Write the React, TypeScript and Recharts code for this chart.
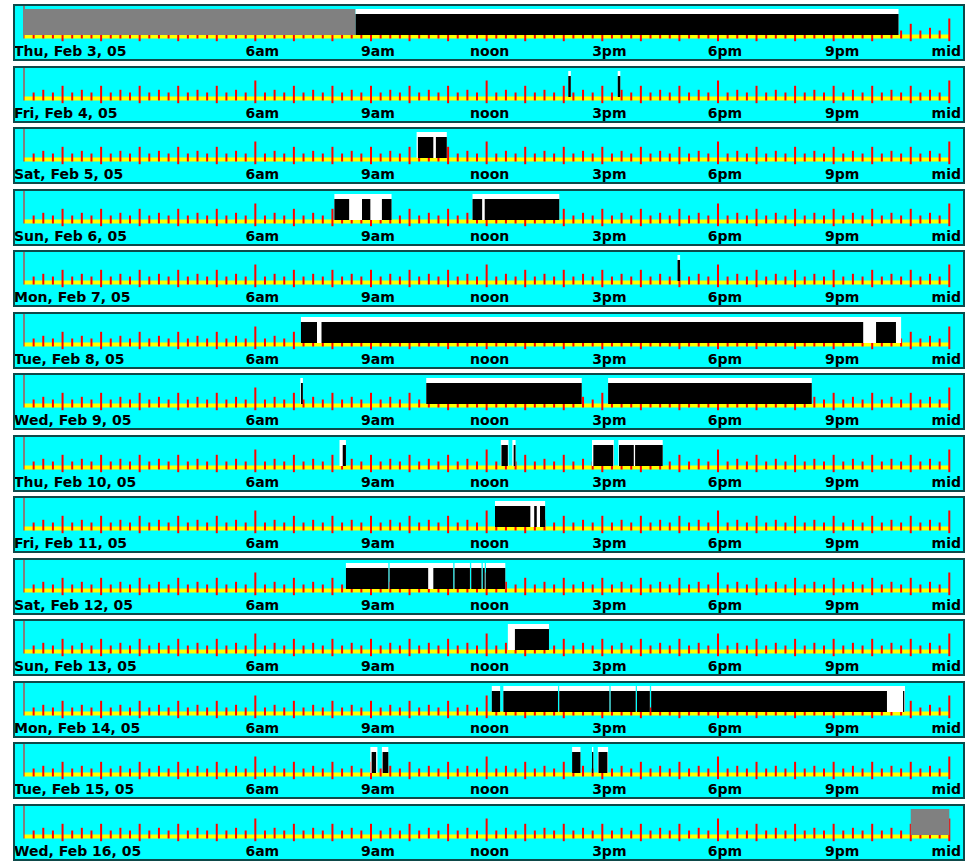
import { ComposedChart, XAxis, YAxis, ReferenceArea, ReferenceLine } from 'recharts'

const dayLabels = [
  'Thu, Feb 3, 05', 'Fri, Feb 4, 05', 'Sat, Feb 5, 05', 'Sun, Feb 6, 05', 'Mon, Feb 7, 05',
  'Tue, Feb 8, 05', 'Wed, Feb 9, 05', 'Thu, Feb 10, 05', 'Fri, Feb 11, 05', 'Sat, Feb 12, 05',
  'Sun, Feb 13, 05', 'Mon, Feb 14, 05', 'Tue, Feb 15, 05', 'Wed, Feb 16, 05',
]

const hourTicks = [6, 9, 12, 15, 18, 21, 24]
const hourLabels = ['6am', '9am', 'noon', '3pm', '6pm', '9pm', 'mid']

// sessions (white), one list per day
const sessions = [
  [['8:36', '22:41']],
  [['14:07', '14:11'], ['15:24', '15:28']],
  [['10:11', '10:58']],
  [['8:03', '9:32'], ['11:38', '13:53']],
  [['16:57', '17:01']],
  [['7:11', '22:45']],
  [['7:10', '7:14'], ['10:26', '14:28'], ['15:09', '20:26']],
  [['8:11', '8:21'], ['12:22', '12:34'], ['12:40', '12:45'], ['14:44', '15:18'], ['15:25', '16:34']],
  [['12:13', '13:31']],
  [['8:21', '9:27'], ['9:29', '11:08'], ['11:10', '11:34'], ['11:36', '11:52'], ['11:54', '11:57'], ['11:59', '12:29']],
  [['12:33', '13:37']],
  [['12:08', '12:21'], ['12:26', '13:51'], ['13:53', '15:11'], ['15:13', '15:52'], ['15:54', '16:14'], ['16:16', '22:51']],
  [['8:59', '9:10'], ['9:17', '9:27'], ['14:13', '14:26'], ['14:44', '14:46'], ['14:53', '15:09']],
  [],
]

// active time (black)
const active = [
  [['8:36', '22:41']],
  [['14:07', '14:11'], ['15:24', '15:28']],
  [['10:13', '10:37'], ['10:41', '10:58']],
  [['8:03', '8:26'], ['8:46', '8:59'], ['9:17', '9:32'], ['11:38', '11:53'], ['11:57', '13:53']],
  [['16:57', '17:01']],
  [['7:11', '7:36'], ['7:43', '21:46'], ['22:06', '22:37']],
  [['7:11', '7:14'], ['10:26', '14:28'], ['15:09', '20:26']],
  [['8:16', '8:21'], ['12:23', '12:33'], ['12:42', '12:45'], ['14:46', '15:17'], ['15:26', '15:49'], ['15:51', '16:34']],
  [['12:13', '13:08'], ['13:14', '13:18'], ['13:23', '13:31']],
  [['8:21', '9:27'], ['9:29', '10:29'], ['10:37', '11:08'], ['11:10', '11:34'], ['11:36', '11:52'], ['11:54', '11:57'], ['11:59', '12:29']],
  [['12:44', '13:37']],
  [['12:08', '12:21'], ['12:26', '13:51'], ['13:53', '15:11'], ['15:13', '15:52'], ['15:54', '16:14'], ['16:16', '22:23'], ['22:48', '22:50']],
  [['9:01', '9:08'], ['9:18', '9:27'], ['14:13', '14:26'], ['14:44', '14:46'], ['14:54', '15:08']],
  [],
]

// no data (gray)
const noData = [
  [['0:00', '8:36']], [], [], [], [], [], [], [], [], [], [], [], [],
  [['23:00', '24:00']],
]

const toH = (s: string) => {
  const [a, b] = s.split(':').map(Number)
  return a + b / 60
}

const W = 948
const H = 53
const PLOT_H = 36
// y axis is reversed, values are px from top of the plot
const SES_TOP = 3
const ACT_TOP = 8
const BAR_BOT = 29
const BAND_TOP = 28.5
const BAND_BOT = 32.5

const quarters = Array.from({ length: 97 }, (_, q) => q / 4)

function tickSpan(h: number): [number, number, number] {
  if (h === 0) return [0, BAND_BOT, 1]
  if (h % 6 === 0) return [12.5, 35.2, 2]
  if (h % 1 === 0) return [17.8, 35.2, 2]
  if (h % 0.5 === 0) return [21.8, BAND_BOT, 2]
  return [24.5, BAND_BOT, 2]
}

const labelShift: Record<number, number> = { 6: 7, 9: 7, 12: 3, 15: 7, 18: 7, 21: 8.5, 24: -3 }

function HourTick(props: any) {
  const { x, payload, day } = props
  const v = payload.value
  const first = v === 0
  return (
    <text
      x={first ? x - 10 : x + labelShift[v]}
      y={50}
      textAnchor={first ? 'start' : 'middle'}
      fontFamily="DejaVu Sans"
      fontWeight="bold"
      fontSize={14}
      fill="#000"
    >
      {first ? day : hourLabels[hourTicks.indexOf(v)]}
    </text>
  )
}

function DayPanel({ i }: { i: number }) {
  return (
    <div
      style={{
        position: 'absolute',
        left: 13,
        top: Math.round(4 + 61.5 * i),
        width: W,
        height: H,
        border: '2px solid #0e4a4a',
        background: '#00ffff',
      }}
    >
      <ComposedChart
        width={W}
        height={H}
        data={quarters.map((h) => ({ h }))}
        margin={{ top: 0, right: 13.7, bottom: 0, left: 9 }}
        style={{ overflow: 'visible' }}
      >
        <XAxis
          type="number"
          dataKey="h"
          domain={[0, 24]}
          allowDataOverflow
          ticks={[0, ...hourTicks]}
          interval={0}
          height={H - PLOT_H}
          axisLine={false}
          tickLine={false}
          tick={(p: any) => <HourTick x={p.x} payload={p.payload} day={dayLabels[i]} />}
        />
        <YAxis type="number" domain={[0, PLOT_H]} reversed hide allowDataOverflow />
        <ReferenceArea
          x1={0}
          x2={24}
          y1={BAND_TOP}
          y2={BAND_BOT}
          fill="#ffff00"
          fillOpacity={1}
          stroke="none"
          ifOverflow="visible"
          zIndex={1}
        />
        {quarters.map((h) => {
          const [y1, y2, w] = tickSpan(h)
          return (
            <ReferenceLine
              key={'t' + h}
              segment={[{ x: h, y: y1 }, { x: h, y: y2 }]}
              stroke="#ff0000"
              strokeWidth={w}
              ifOverflow="visible"
              zIndex={2}
            />
          )
        })}
        {noData[i].map(([a, b], k) => (
          <ReferenceArea
            key={'g' + k}
            x1={toH(a)}
            x2={toH(b)}
            y1={SES_TOP}
            y2={BAR_BOT}
            fill="#808080"
            fillOpacity={1}
            stroke="none"
            ifOverflow="visible"
            zIndex={3}
          />
        ))}
        {sessions[i].map(([a, b], k) => (
          <ReferenceArea
            key={'s' + k}
            x1={toH(a)}
            x2={toH(b)}
            y1={SES_TOP}
            y2={BAR_BOT}
            fill="#ffffff"
            fillOpacity={1}
            stroke="none"
            ifOverflow="visible"
            zIndex={4}
          />
        ))}
        {active[i].map(([a, b], k) => (
          <ReferenceArea
            key={'a' + k}
            x1={toH(a)}
            x2={toH(b)}
            y1={ACT_TOP}
            y2={BAR_BOT}
            fill="#000000"
            fillOpacity={1}
            stroke="none"
            ifOverflow="visible"
            zIndex={5}
          />
        ))}
      </ComposedChart>
    </div>
  )
}

export default function App() {
  return (
    <div style={{ position: 'absolute', left: 0, top: 0, width: 975, height: 861, background: '#fff' }}>
      {dayLabels.map((_, i) => (
        <DayPanel key={i} i={i} />
      ))}
    </div>
  )
}
